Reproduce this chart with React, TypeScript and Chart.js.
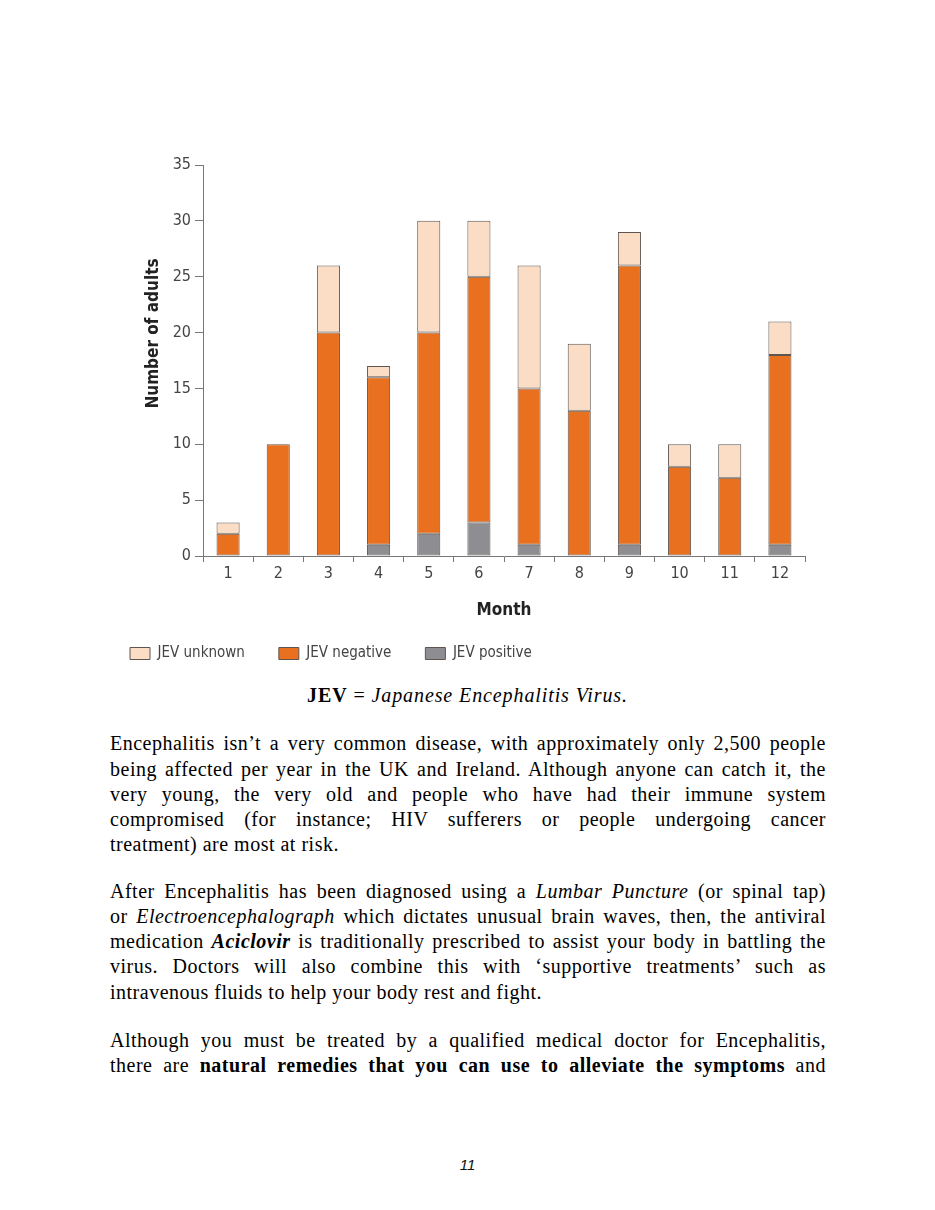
import React, { useEffect, useRef } from 'react';
import { Chart, registerables } from 'chart.js';

Chart.register(...registerables);

// ---- chart data ----
const MONTHS = ['1', '2', '3', '4', '5', '6', '7', '8', '9', '10', '11', '12'];
const JEV_POSITIVE = [0, 0, 0, 1, 2, 3, 1, 0, 1, 0, 0, 1];
const JEV_NEGATIVE = [2, 10, 20, 15, 18, 22, 14, 13, 25, 8, 7, 17];
const JEV_UNKNOWN = [1, 0, 6, 1, 10, 5, 11, 6, 3, 2, 3, 3];
const Y_MAX = 35;
const Y_STEP = 5;
const Y_TITLE = 'Number of adults';
const X_TITLE = 'Month';
const SERIES_LABELS = ['JEV positive', 'JEV negative', 'JEV unknown'];

const CHART_FONT = '"Liberation Sans Narrow", "Arial Narrow", "DejaVu Sans Condensed", sans-serif';
const SERIF = '"Liberation Serif", "Times New Roman", serif';

const yTitlePlugin = {
  id: 'yTitlePlugin',
  afterDraw(chart: any) {
    const s = chart.scales.y;
    const ctx = chart.ctx;
    ctx.save();
    ctx.font = `bold 17px ${CHART_FONT}`;
    ctx.fillStyle = '#222';
    ctx.textAlign = 'center';
    ctx.textBaseline = 'middle';
    ctx.translate(58, (s.top + s.bottom) / 2 - 27);
    ctx.rotate(-Math.PI / 2);
    ctx.fillText(Y_TITLE, 0, 0);
    ctx.restore();
  },
};

function JevChart() {
  const ref = useRef<HTMLCanvasElement>(null);
  useEffect(() => {
    if (!ref.current) return;
    const border = '#5e5550';
    const chart = new Chart(ref.current, {
      type: 'bar',
      data: {
        labels: MONTHS,
        datasets: [
          { label: SERIES_LABELS[0], data: JEV_POSITIVE, backgroundColor: '#8d8d92', borderColor: border, borderWidth: 1, borderSkipped: false },
          { label: SERIES_LABELS[1], data: JEV_NEGATIVE, backgroundColor: '#e8701e', borderColor: border, borderWidth: 1, borderSkipped: false },
          { label: SERIES_LABELS[2], data: JEV_UNKNOWN, backgroundColor: '#fbdcc4', borderColor: border, borderWidth: 1, borderSkipped: false },
        ],
      },
      options: {
        responsive: false,
        animation: false,
        devicePixelRatio: 1,
        layout: { padding: { top: 20, left: 0, right: 31, bottom: 4 } },
        datasets: { bar: { barPercentage: 0.46, categoryPercentage: 1 } },
        plugins: {
          tooltip: { enabled: false },
          legend: {
            position: 'bottom',
            align: 'start',
            reverse: true,
            labels: {
              boxWidth: 20,
              boxHeight: 12,
              padding: 34,
              color: '#444',
              font: { family: CHART_FONT, size: 15 },
            },
          },
        },
        scales: {
          x: {
            stacked: true,
            grid: { display: true, drawOnChartArea: false, drawTicks: true, tickLength: 6, color: '#777', offset: true },
            border: { display: true, color: '#777', width: 1 },
            ticks: { color: '#444', padding: 2, font: { family: CHART_FONT, size: 16 } },
            title: {
              display: true,
              text: X_TITLE,
              color: '#222',
              font: { family: CHART_FONT, size: 17, weight: 'bold' },
              padding: { top: 0, bottom: -9 },
            },
            afterFit: (s: any) => { s.height = 56; },
          },
          y: {
            stacked: true,
            min: 0,
            max: Y_MAX,
            grid: { display: true, drawOnChartArea: false, drawTicks: true, tickLength: 8, color: '#777' },
            border: { display: true, color: '#777', width: 1 },
            ticks: { stepSize: Y_STEP, color: '#444', padding: 4, font: { family: CHART_FONT, size: 16 } },
            title: { display: false },
            afterFit: (s: any) => { s.width = 107; },
          },
        },
      },
      plugins: [yTitlePlugin],
    } as any);
    return () => chart.destroy();
  }, []);
  return <canvas ref={ref} width={740} height={530} style={{ width: 740, height: 530, display: 'block' }} />;
}

const lineStyle = (top: number, last: boolean): React.CSSProperties => ({
  position: 'absolute',
  left: 110,
  width: 716,
  top,
  height: 25,
  lineHeight: '25px',
  fontSize: 20,
  letterSpacing: '0.5px',
  fontFamily: SERIF,
  color: '#000',
  textAlign: last ? 'left' : 'justify',
  textAlignLast: last ? 'left' : 'justify',
  whiteSpace: 'nowrap',
} as React.CSSProperties);

const P1 = [
  <>Encephalitis isn’t a very common disease, with approximately only 2,500 people</>,
  <>being affected per year in the UK and Ireland. Although anyone can catch it, the</>,
  <>very young, the very old and people who have had their immune system</>,
  <>compromised (for instance; HIV sufferers or people undergoing cancer</>,
  <>treatment) are most at risk.</>,
];
const P2 = [
  <>After Encephalitis has been diagnosed using a <i>Lumbar Puncture</i> (or spinal tap)</>,
  <>or <i>Electroencephalograph</i> which dictates unusual brain waves, then, the antiviral</>,
  <>medication <b><i>Aciclovir</i></b> is traditionally prescribed to assist your body in battling the</>,
  <>virus. Doctors will also combine this with ‘supportive treatments’ such as</>,
  <>intravenous fluids to help your body rest and fight.</>,
];
const P3 = [
  <>Although you must be treated by a qualified medical doctor for Encephalitis,</>,
  <>there are <b>natural remedies that you can use to alleviate the symptoms</b> and</>,
];

function Para({ lines, centers, lastLeft }: { lines: React.ReactNode[]; centers: number[]; lastLeft: boolean }) {
  return (
    <>
      {lines.map((l, i) => (
        <div key={i} style={lineStyle(centers[i] - 14, lastLeft && i === lines.length - 1)}>
          {l}
        </div>
      ))}
    </>
  );
}

export default function App() {
  return (
    <div style={{ position: 'absolute', left: 0, top: 0, width: 935, height: 1210, background: '#fff', overflow: 'hidden' }}>
      <div style={{ position: 'absolute', left: 96, top: 145 }}>
        <JevChart />
      </div>
      <div style={{ position: 'absolute', left: 0, width: 935, top: 683, textAlign: 'center', fontFamily: SERIF, fontSize: 20, letterSpacing: '0.9px', lineHeight: '25px' }}>
        <b>JEV</b> = <i>Japanese Encephalitis Virus.</i>
      </div>
      <Para lines={P1} centers={[745, 771, 796, 821, 846]} lastLeft={true} />
      <Para lines={P2} centers={[893, 918, 943, 968, 994]} lastLeft={true} />
      <Para lines={P3} centers={[1042, 1067]} lastLeft={false} />
      <div style={{ position: 'absolute', left: 0, width: 935, top: 1155, textAlign: 'center', fontFamily: '"Liberation Sans", Arial, sans-serif', fontStyle: 'italic', fontSize: 15, lineHeight: '20px', color: '#111' }}>
        11
      </div>
    </div>
  );
}
